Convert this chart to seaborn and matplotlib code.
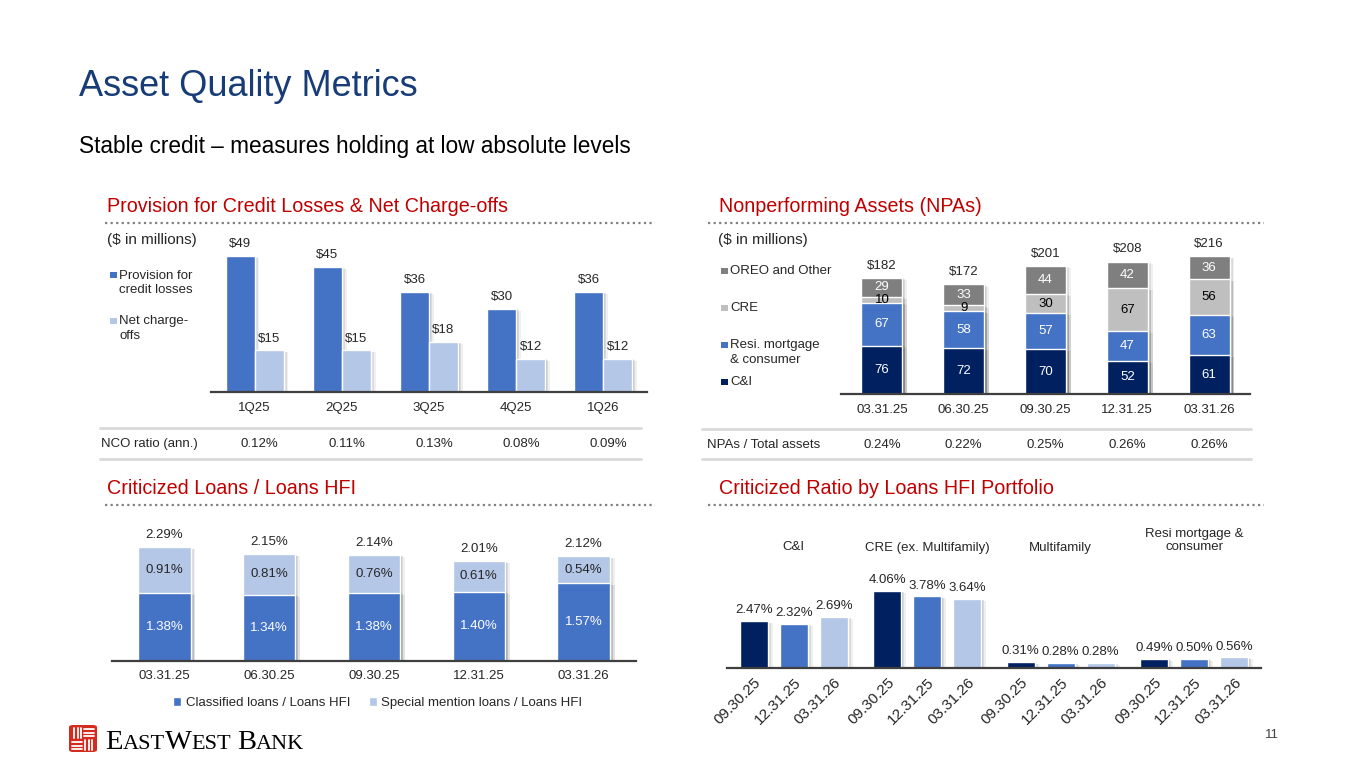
import numpy as np
import pandas as pd
import seaborn as sns
import matplotlib.pyplot as plt
import matplotlib.patheffects as pe
from matplotlib.lines import Line2D
from matplotlib.patches import Rectangle, FancyBboxPatch, Patch
from matplotlib.transforms import blended_transform_factory

# ---------------- data ----------------
quarters = ['1Q25', '2Q25', '3Q25', '4Q25', '1Q26']
provision = [49, 45, 36, 30, 36]
net_chargeoffs = [15, 15, 18, 12, 12]
nco_ratio = ['0.12%', '0.11%', '0.13%', '0.08%', '0.09%']

npa_dates = ['03.31.25', '06.30.25', '09.30.25', '12.31.25', '03.31.26']
npa_ci = [76, 72, 70, 52, 61]
npa_resi = [67, 58, 57, 47, 63]
npa_cre = [10, 9, 30, 67, 56]
npa_oreo = [29, 33, 44, 42, 36]
npa_ratio = ['0.24%', '0.22%', '0.25%', '0.26%', '0.26%']

crit_dates = ['03.31.25', '06.30.25', '09.30.25', '12.31.25', '03.31.26']
classified = [1.38, 1.34, 1.38, 1.40, 1.57]
special_mention = [0.91, 0.81, 0.76, 0.61, 0.54]
crit_totals = [2.29, 2.15, 2.14, 2.01, 2.12]

portfolios = ['C&I', 'CRE (ex. Multifamily)', 'Multifamily', 'Resi mortgage &\nconsumer']
ratio_dates = ['09.30.25', '12.31.25', '03.31.26']
ratio_sep25 = [2.47, 4.06, 0.31, 0.49]
ratio_dec25 = [2.32, 3.78, 0.28, 0.50]
ratio_mar26 = [2.69, 3.64, 0.28, 0.56]

# colours
NAVY = '#002060'
BLUE = '#4472C4'
LIGHT = '#B4C7E7'
GREY_LT = '#BFBFBF'
GREY_DK = '#7F7F7F'
RED = '#C00000'
TITLE_BLUE = '#173C78'
TXT = '#262626'

sns.set_theme(style='white')
plt.rcParams['font.family'] = ['Liberation Sans', 'DejaVu Sans']

W, H = 1365, 768
fig = plt.figure(figsize=(W / 100, H / 100), dpi=100)
fig.patch.set_facecolor('white')


def fx(x):
    return x / W


def fy(y):
    return 1 - y / H


def add_axes_px(left, top, right, bottom):
    return fig.add_axes([fx(left), fy(bottom), fx(right) - fx(left), fy(top) - fy(bottom)])


def text_px(x, y, s, **kw):
    kw.setdefault('va', 'center')
    kw.setdefault('fontsize', 9.5)
    kw.setdefault('color', TXT)
    return fig.text(fx(x), fy(y), s, **kw)


def line_px(x0, x1, y, **kw):
    fig.add_artist(Line2D([fx(x0), fx(x1)], [fy(y), fy(y)], transform=fig.transFigure, **kw))


def dotted(x0, x1, y):
    line_px(x0, x1, y, color='#808080', lw=1.6, ls=(0, (1, 1.5)))


def swatch(x, y, color, size=6.5):
    fig.add_artist(Rectangle((fx(x), fy(y + size / 2)), size / W, size / H,
                             transform=fig.transFigure, facecolor=color, edgecolor='none'))


# soft drop shadow on the right side of the bars
shadow = [pe.SimplePatchShadow(offset=(3.5, -1.5), shadow_rgbFace='black', alpha=0.06),
          pe.SimplePatchShadow(offset=(2.2, -1), shadow_rgbFace='black', alpha=0.09),
          pe.SimplePatchShadow(offset=(1.1, -0.5), shadow_rgbFace='black', alpha=0.1),
          pe.Normal()]


def style_axis(ax, n, ymax, label_size=9.5, pad=7):
    ax.set_xlim(-0.5, n - 0.5)
    ax.set_ylim(0, ymax)
    ax.set_xlabel('')
    ax.set_ylabel('')
    ax.set_yticks([])
    for side in ['left', 'right', 'top']:
        ax.spines[side].set_visible(False)
    ax.spines['bottom'].set_color('#3F3F3F')
    ax.spines['bottom'].set_linewidth(1.6)
    ax.tick_params(axis='x', length=0, pad=pad, labelsize=label_size, labelcolor=TXT)
    ax.set_facecolor('none')
    for p in ax.patches:
        p.set_path_effects(shadow)


# ---------------- titles ----------------
text_px(79, 87, 'Asset Quality Metrics', fontsize=26, color=TITLE_BLUE)
text_px(79, 146, 'Stable credit \u2013 measures holding at low absolute levels', fontsize=16.3, color='black')

# ---------------- 1. provision & NCOs ----------------
text_px(107, 206, 'Provision for Credit Losses & Net Charge-offs', fontsize=14.2, color=RED)
dotted(105, 652, 223)

prov_df = pd.DataFrame({
    'quarter': quarters * 2,
    'series': ['Provision for credit losses'] * 5 + ['Net charge-offs'] * 5,
    'amount': provision + net_chargeoffs,
})
ax1 = add_axes_px(211, 228, 647, 392)
sns.barplot(data=prov_df, x='quarter', y='amount', hue='series', palette=[BLUE, LIGHT],
            width=0.666, saturation=1, errorbar=None, legend=False, ax=ax1)
for cont, vals in zip(ax1.containers, [provision, net_chargeoffs]):
    ax1.bar_label(cont, labels=[f'${v}' for v in vals], padding=4, fontsize=9.5, color=TXT)
style_axis(ax1, len(quarters), (392 - 228) / 2.78)

text_px(107, 240, '($ in millions)', fontsize=11)
swatch(110, 275, BLUE)
text_px(119, 283, 'Provision for\ncredit losses', linespacing=1.25)
swatch(110, 321, LIGHT)
text_px(119, 328.5, 'Net charge-\noffs', linespacing=1.25)

line_px(100, 641, 428, color='#D9D9D9', lw=2)
line_px(100, 641, 459, color='#D9D9D9', lw=2)
text_px(101, 444, 'NCO ratio (ann.)')
trans1 = blended_transform_factory(ax1.transData, fig.transFigure)
for i, r in enumerate(nco_ratio):
    ax1.text(i + 0.06, fy(444), r, transform=trans1, ha='center', va='center', fontsize=9.5, color=TXT)

# ---------------- 2. NPAs ----------------
text_px(719, 206, 'Nonperforming Assets (NPAs)', fontsize=14.2, color=RED)
dotted(708, 1264, 223)

npa_df = pd.DataFrame({'date': npa_dates, 'ci': npa_ci, 'resi': npa_resi,
                       'cre': npa_cre, 'oreo': npa_oreo})
seg_cols = ['ci', 'resi', 'cre', 'oreo']
seg_colors = {'ci': NAVY, 'resi': BLUE, 'cre': GREY_LT, 'oreo': GREY_DK}
seg_text = {'ci': 'white', 'resi': 'white', 'cre': 'black', 'oreo': 'white'}
npa_cum = npa_df[seg_cols].cumsum(axis=1)

ax2 = add_axes_px(841, 228, 1250, 394)
for col in reversed(seg_cols):
    sns.barplot(x=npa_df['date'], y=npa_cum[col], color=seg_colors[col], width=0.5,
                saturation=1, errorbar=None, ax=ax2)
for col in seg_cols:
    for i, v in enumerate(npa_df[col]):
        mid = npa_cum[col][i] - v / 2
        ax2.text(i, mid, str(v), ha='center', va='center', fontsize=9.5, color=seg_text[col])
for i, tot in enumerate(npa_cum['oreo']):
    ax2.annotate(f'${tot}', (i, tot), xytext=(0, 4.5), textcoords='offset points',
                 ha='center', va='bottom', fontsize=9.5, color=TXT)
style_axis(ax2, len(npa_dates), (394 - 228) / 0.637)

text_px(718, 240, '($ in millions)', fontsize=11)
swatch(721, 271, GREY_DK)
text_px(730, 271, 'OREO and Other')
swatch(721, 308, GREY_LT)
text_px(730, 308, 'CRE')
swatch(721, 345, BLUE)
text_px(730, 352.5, 'Resi. mortgage\n& consumer', linespacing=1.25)
swatch(721, 382, NAVY)
text_px(730, 382, 'C&I')

line_px(702, 1251, 429, color='#D9D9D9', lw=2)
line_px(702, 1251, 459, color='#D9D9D9', lw=2)
text_px(707, 445, 'NPAs / Total assets')
trans2 = blended_transform_factory(ax2.transData, fig.transFigure)
for i, r in enumerate(npa_ratio):
    ax2.text(i, fy(445), r, transform=trans2, ha='center', va='center', fontsize=9.5, color=TXT)

# ---------------- 3. criticized loans ----------------
text_px(107, 488, 'Criticized Loans / Loans HFI', fontsize=14.2, color=RED)
dotted(105, 652, 505)

crit_df = pd.DataFrame({'date': crit_dates, 'classified': classified, 'special': special_mention})
crit_df['top'] = crit_df['classified'] + crit_df['special']

ax3 = add_axes_px(112, 512, 636, 661)
sns.barplot(data=crit_df, x='date', y='top', color=LIGHT, width=0.5, saturation=1, errorbar=None, ax=ax3)
sns.barplot(data=crit_df, x='date', y='classified', color=BLUE, width=0.5, saturation=1, errorbar=None, ax=ax3)
for i, row in crit_df.iterrows():
    ax3.text(i, row['classified'] / 2, f"{row['classified']:.2f}%", ha='center', va='center',
             fontsize=9.5, color='white')
    ax3.text(i, row['classified'] + row['special'] / 2, f"{row['special']:.2f}%", ha='center',
             va='center', fontsize=9.5, color=TXT)
    ax3.annotate(f'{crit_totals[i]:.2f}%', (i, row['top']), xytext=(0, 4.5), textcoords='offset points',
                 ha='center', va='bottom', fontsize=9.5, color=TXT)
style_axis(ax3, len(crit_dates), (661 - 512) / 49.6, pad=6.5)
ax3.legend(handles=[Patch(facecolor=BLUE, label='Classified loans / Loans HFI'),
                    Patch(facecolor=LIGHT, label='Special mention loans / Loans HFI')],
           loc='center', bbox_to_anchor=(fx(378), fy(703)), bbox_transform=fig.transFigure,
           ncol=2, frameon=False, handlelength=0.6, handleheight=0.6, handletextpad=0.35,
           columnspacing=1.4, fontsize=9.5, labelcolor=TXT)

# ---------------- 4. criticized ratio by portfolio ----------------
text_px(719, 488, 'Criticized Ratio by Loans HFI Portfolio', fontsize=14.2, color=RED)
dotted(708, 1264, 505)

ratio_df = pd.DataFrame({
    'portfolio': portfolios * 3,
    'date': np.repeat(ratio_dates, len(portfolios)),
    'ratio': ratio_sep25 + ratio_dec25 + ratio_mar26,
})
ax4 = add_axes_px(727, 555, 1261, 668)
sns.barplot(data=ratio_df, x='portfolio', y='ratio', hue='date', palette=[NAVY, BLUE, LIGHT],
            width=0.9, gap=0.3, saturation=1, errorbar=None, legend=False, ax=ax4)
ticks = []
for h, (cont, vals) in enumerate(zip(ax4.containers, [ratio_sep25, ratio_dec25, ratio_mar26])):
    ax4.bar_label(cont, labels=[f'{v:.2f}%' for v in vals], padding=3.5, fontsize=9.5, color=TXT)
    for bar in cont:
        ticks.append((bar.get_x() + bar.get_width() / 2, ratio_dates[h]))
ticks.sort()
style_axis(ax4, len(portfolios), (668 - 555) / 18.95, label_size=11, pad=5)
ax4.set_xticks([t[0] for t in ticks])
ax4.set_xticklabels([t[1] for t in ticks], rotation=45, ha='right', rotation_mode='anchor')
trans4 = blended_transform_factory(ax4.transData, fig.transFigure)
for i, name in enumerate(portfolios):
    ax4.text(i, fy(553.5), name, transform=trans4, ha='center', va='bottom', fontsize=9.5,
             color=TXT, linespacing=1.2)

# ---------------- footer: logo + page number ----------------
fig.add_artist(FancyBboxPatch((fx(69), fy(752)), 28 / W, 27 / H, boxstyle='round,pad=0,rounding_size=0.003',
                              transform=fig.transFigure, facecolor='#D52B1E', edgecolor='none'))
white = dict(color='white', lw=1.3, transform=fig.transFigure)
for k in range(3):
    # top-left and bottom-right quarters: vertical stripes
    fig.add_artist(Line2D([fx(74 + 3.5 * k)] * 2, [fy(728), fy(738)], **white))
    fig.add_artist(Line2D([fx(85 + 3.5 * k)] * 2, [fy(740), fy(750)], **white))
    # top-right and bottom-left quarters: horizontal stripes
    fig.add_artist(Line2D([fx(84), fx(94)], [fy(729 + 3.5 * k)] * 2, **white))
    fig.add_artist(Line2D([fx(72), fx(82)], [fy(742 + 3.5 * k)] * 2, **white))

renderer = fig.canvas.get_renderer()
x_cur = 105
for part, size in [('E', 20.5), ('AST', 16), ('W', 20.5), ('EST', 16), (None, 0), ('B', 20.5), ('ANK', 16)]:
    if part is None:
        x_cur += 6
        continue
    t = fig.text(fx(x_cur), fy(749), part, fontsize=size, family=['Liberation Serif', 'DejaVu Serif'],
                 va='baseline', color='black')
    x_cur += t.get_window_extent(renderer).width

text_px(1272, 735, '11', fontsize=9.5, ha='center', color='#404040')

fig.savefig('out.png', dpi=100)
